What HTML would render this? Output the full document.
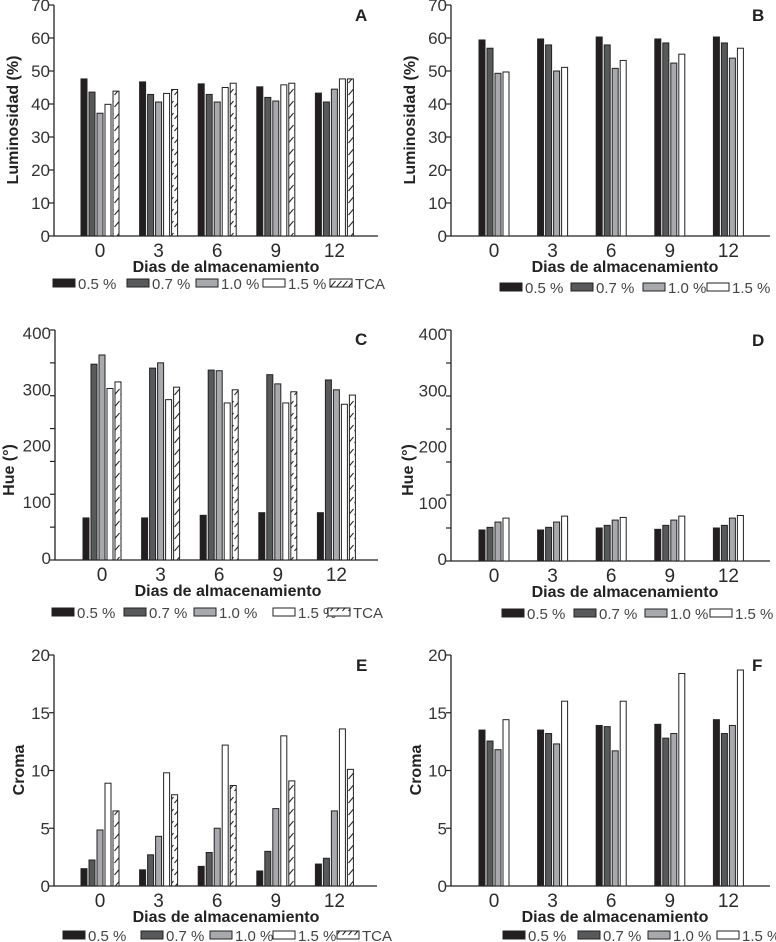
<!DOCTYPE html>
<html><head><meta charset="utf-8">
<style>
html,body{margin:0;padding:0;background:#fff;}
svg{display:block;font-family:"Liberation Sans",sans-serif;}
.tick{font-size:17px;fill:#333;}
.cat{font-size:19px;fill:#2a2a2a;text-anchor:middle;}
.xt{font-size:16px;font-weight:bold;fill:#222;text-anchor:middle;}
.yt{font-size:16px;font-weight:bold;fill:#222;text-anchor:middle;}
.leg{font-size:15px;fill:#444;}
.pl{font-size:17px;font-weight:bold;fill:#222;}
</style></head>
<body>
<svg id="fig" width="776" height="942" viewBox="0 0 776 942">
<defs>
<pattern id="hatch" patternUnits="userSpaceOnUse" width="6" height="12">
<rect width="6" height="12" fill="#fff"/>
<line x1="0.5" y1="11" x2="5.5" y2="5" stroke="#222" stroke-width="1"/>
</pattern>
</defs>
</svg>
<script>
// ---- data ----
const categories = ["0","3","6","9","12"];
const seriesNames = ["0.5 %","0.7 %","1.0 %","1.5 %","TCA"];
const aS05 = [47.6,46.7,46.1,45.2,43.3];
const aS07 = [43.6,42.9,42.9,42.0,40.6];
const aS10 = [37.2,40.6,40.6,40.9,44.5];
const aS15 = [39.9,43.2,45.0,45.8,47.6];
const aTCA = [43.9,44.4,46.3,46.3,47.6];
const bS05 = [59.4,59.7,60.3,59.7,60.3];
const bS07 = [56.9,57.9,57.9,58.5,58.5];
const bS10 = [49.3,50.0,50.8,52.4,53.9];
const bS15 = [49.7,51.1,53.2,55.1,56.9];
const cS05 = [64,64,68,72,72];
const cS07 = [298,292,289,282,274];
const cS10 = [312,300,288,268,259];
const cS15 = [261,244,239,239,237];
const cTCA = [271,263,259,256,251];
const dS05 = [47,47,50,48,50];
const dS07 = [51,51,54,54,54];
const dS10 = [59,59,62,62,65];
const dS15 = [65,68,66,68,69];
const eS05 = [1.5,1.4,1.7,1.3,1.9];
const eS07 = [2.25,2.7,2.9,3.0,2.4];
const eS10 = [4.85,4.3,5.0,6.7,6.5];
const eS15 = [8.9,9.8,12.2,13.0,13.6];
const eTCA = [6.5,7.9,8.7,9.1,10.1];
const fS05 = [13.5,13.5,13.9,14.0,14.4];
const fS07 = [12.55,13.2,13.8,12.8,13.2];
const fS10 = [11.8,12.3,11.7,13.2,13.9];
const fS15 = [14.4,16.0,16.0,18.4,18.7];
const lumTicks = [0,10,20,30,40,50,60,70];
const hueTickLabels = [0,100,200,300,400];
const hueMinorTicks = [0,50,100,150,200,250,300,350];
const cromaTicks = [0,5,10,15,20];

const fills = ["#231f20","#58595b","#a7a9ac","#ffffff","url(#hatch)"];
const NS = "http://www.w3.org/2000/svg";
const svg = document.getElementById("fig");
function mk(tag, attrs, parent){const e=document.createElementNS(NS,tag);for(const k in attrs)e.setAttribute(k,attrs[k]);(parent||svg).appendChild(e);return e;}

function panel(cfg){
  const g = mk("g",{});
  
  
  const y = v => cfg.y0 - (v/cfg.vmax)*(cfg.y0-cfg.ytop);
  const xg = i => cfg.firstBar + i*58.6;
  const ax = mk("line",{x1:cfg.x0,y1:cfg.y0,x2:cfg.xEnd,y2:cfg.y0,stroke:"#222","stroke-width":1.3},g);
  
  
  const ay = mk("line",{x1:cfg.x0,y1:cfg.y0,x2:cfg.x0,y2:cfg.ytop,stroke:"#222","stroke-width":1.3},g);
  
  
  cfg.ticks.forEach(t=>{
    mk("line",{x1:cfg.x0-5,y1:y(t),x2:cfg.x0,y2:y(t),stroke:"#222","stroke-width":1.2},g);
  });
  const ly = cfg.labelY || y;
  cfg.tickLabels.forEach(t=>{
    const tx = mk("text",{x:cfg.x0-4,y:ly(t)+6,"text-anchor":"end",class:"tick"},g);
    tx.textContent = t;
    
    
  });
  cfg.series.forEach((s,si)=>{
    s.forEach((v,i)=>{
      const bx = xg(i) + si*8;
      const r = mk("rect",{x:bx,y:y(v),width:6,height:cfg.y0-y(v),fill:fills[si],stroke:"#222","stroke-width":1},g);
      
      
    });
  });
  categories.forEach((c,i)=>{
    const cx = xg(i) + (cfg.series.length*8-2)/2;
    const t = mk("text",{x:cx,y:cfg.y0+21,class:"cat"},g);
    t.textContent = c;
    
    
  });
  const xt = mk("text",{x:cfg.xtX,y:cfg.y0+36,class:"xt"},g);
  xt.textContent = "Dias de almacenamiento";
  if(cfg.xtLight){xt.setAttribute("font-weight","normal");xt.setAttribute("font-size","17");}
  
  
  const yt = mk("text",{x:cfg.ytX,y:cfg.ytY,class:"yt",transform:`rotate(-90 ${cfg.ytX} ${cfg.ytY})`},g);
  yt.textContent = cfg.ytitle;
  
  
  const pl = mk("text",{x:cfg.plX,y:cfg.plY,class:"pl"},g);
  pl.textContent = cfg.letter;
  
  
  cfg.legX.forEach((lx,si)=>{
    const sw = mk("rect",{x:lx,y:cfg.legY-4,width:cfg.legW||22,height:8,fill:fills[si],stroke:"#222","stroke-width":1},g);
    
    
    const lt = mk("text",{x:lx+(cfg.legW||22)+3,y:cfg.legY+6,class:"leg"},g);
    lt.textContent = seriesNames[si];
    
    
  });
}

const hueLabelY = v => 558 - v*0.5625;
panel({letter:"A",x0:54,xEnd:378,y0:236,ytop:5,vmax:70,firstBar:81,ticks:lumTicks,tickLabels:lumTicks,
  series:[aS05,aS07,aS10,aS15,aTCA],xtX:226,ytX:18,ytY:120,ytitle:"Luminosidad (%)",plX:355,plY:21,
  legX:[53,127,196,263,330],legY:283});
panel({letter:"B",x0:451,xEnd:770,y0:236,ytop:5,vmax:70,firstBar:479,ticks:lumTicks,tickLabels:lumTicks,
  series:[bS05,bS07,bS10,bS15],xtX:625,ytX:415,ytY:120,ytitle:"Luminosidad (%)",plX:752,plY:21,
  legX:[500,571,643,707],legY:287});
panel({letter:"C",x0:55,xEnd:378,y0:560,ytop:330,vmax:350,firstBar:83,ticks:hueMinorTicks,tickLabels:hueTickLabels,
  labelY:hueLabelY,series:[cS05,cS07,cS10,cS15,cTCA],xtX:228,ytX:14,ytY:470,ytitle:"Hue (°)",plX:355,plY:345,
  legX:[52,124,194,273,328],legY:612});
panel({letter:"D",x0:451,xEnd:770,y0:561,ytop:330,vmax:350,firstBar:479,ticks:hueMinorTicks,tickLabels:hueTickLabels,
  labelY:v=>559-v*0.5625,series:[dS05,dS07,dS10,dS15],xtX:625,ytX:413,ytY:470,ytitle:"Hue (°)",plX:752,plY:346,
  legX:[502,574,645,710],legY:613});
panel({letter:"E",x0:54,xEnd:377,y0:886,ytop:655,vmax:20,firstBar:81,ticks:cromaTicks,tickLabels:cromaTicks,
  series:[eS05,eS07,eS10,eS15,eTCA],xtX:226,ytX:24,ytY:770,ytitle:"Croma",plX:356,plY:671,
  legX:[63,141,210,273,337],legY:935});
panel({letter:"F",x0:451,xEnd:770,y0:886,ytop:655,vmax:20,firstBar:479,ticks:cromaTicks,tickLabels:cromaTicks,
  series:[fS05,fS07,fS10,fS15],xtX:615,xtLight:true,ytX:421,ytY:770,ytitle:"Croma",plX:752,plY:671,
  legX:[503,578,648,717],legY:935});
</script>
</body></html>
